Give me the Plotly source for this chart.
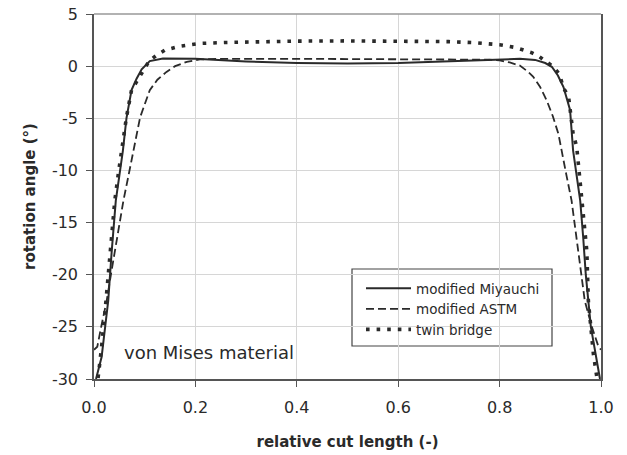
import plotly.graph_objects as go

# modified Miyauchi specimen
miyauchi_x = [0.004, 0.015, 0.022, 0.028, 0.035, 0.043, 0.050, 0.057, 0.064, 0.074,
              0.084, 0.094, 0.110, 0.136, 0.20, 0.30, 0.40, 0.50, 0.60, 0.70,
              0.80, 0.84, 0.87, 0.89, 0.903, 0.915, 0.926, 0.939, 0.945, 0.952,
              0.959, 0.965, 0.970, 0.980, 0.990, 0.998]
miyauchi_y = [-30.0, -27.9, -25.0, -22.5, -17.7, -12.9, -10.5, -8.1, -5.0, -2.3,
              -1.2, -0.3, 0.48, 0.74, 0.70, 0.45, 0.30, 0.25, 0.30, 0.45,
              0.65, 0.70, 0.60, 0.30, -0.06, -0.9, -2.0, -4.2, -8.1, -10.5,
              -12.9, -16.5, -20.0, -25.0, -28.0, -30.0]

# modified ASTM specimen
astm_x = [0.0, 0.0065, 0.015, 0.025, 0.033, 0.041, 0.050, 0.058, 0.068, 0.078,
          0.091, 0.110, 0.125, 0.143, 0.160, 0.183, 0.209, 0.25, 0.30, 0.40,
          0.50, 0.60, 0.70, 0.78, 0.80, 0.82, 0.84, 0.855, 0.866, 0.880,
          0.893, 0.905, 0.916, 0.922, 0.932, 0.942, 0.955, 0.968, 0.982, 0.995, 1.0]
astm_y = [-27.2, -26.9, -24.8, -22.5, -20.1, -17.7, -15.3, -12.9, -10.5, -8.1,
          -4.9, -2.3, -1.3, -0.55, 0.0, 0.41, 0.64, 0.70, 0.72, 0.70,
          0.68, 0.68, 0.68, 0.62, 0.55, 0.35, 0.05, -0.5, -1.0, -2.0,
          -3.3, -4.8, -6.5, -8.1, -10.5, -12.9, -17.7, -22.5, -25.0, -26.9, -27.2]

# twin bridge specimen
twin_x = [0.008, 0.013, 0.015, 0.022, 0.028, 0.035, 0.041, 0.048, 0.055, 0.064,
          0.074, 0.091, 0.109, 0.124, 0.140, 0.170, 0.209, 0.262, 0.327, 0.40,
          0.50, 0.60, 0.70, 0.75, 0.80, 0.83, 0.85, 0.863, 0.877, 0.892,
          0.906, 0.918, 0.926, 0.936, 0.939, 0.945, 0.952, 0.962, 0.972, 0.975,
          0.982, 0.985, 0.992]
twin_y = [-29.9, -27.9, -26.9, -23.4, -20.1, -16.1, -12.9, -10.3, -7.7, -4.9,
          -2.3, -0.86, 0.51, 1.06, 1.54, 1.92, 2.18, 2.27, 2.37, 2.40,
          2.42, 2.40, 2.35, 2.25, 2.05, 1.80, 1.54, 1.30, 0.96, 0.48,
          -0.06, -0.77, -2.1, -2.9, -4.2, -6.5, -7.7, -12.9, -17.7, -22.5,
          -25.7, -27.6, -29.9]

x_ticks = [0.0, 0.2, 0.4, 0.6, 0.8, 1.0]
x_labels = ["0.0", "0.2", "0.4", "0.6", "0.8", "1.0"]
y_ticks = [5, 0, -5, -10, -15, -20, -25, -30]
y_labels = ["5", "0", "-5", "-10", "-15", "-20", "-25", "-30"]

FONT = "DejaVu Sans, Arial, sans-serif"
INK = "#2a2a2a"

fig = go.Figure()
fig.add_trace(go.Scatter(x=miyauchi_x, y=miyauchi_y, mode="lines",
                         name="modified Miyauchi",
                         line=dict(color=INK, width=2)))
fig.add_trace(go.Scatter(x=astm_x, y=astm_y, mode="lines",
                         name="modified ASTM",
                         line=dict(color=INK, width=1.8, dash="8px,4px")))
fig.add_trace(go.Scatter(x=twin_x, y=twin_y, mode="lines",
                         name="twin bridge",
                         line=dict(color=INK, width=3.6, dash="3.6px,7px")))

# legend frame
fig.add_shape(type="rect", xref="paper", yref="paper",
              x0=(352 - 94) / 507, x1=(552 - 94) / 507,
              y0=(379 - 346) / 365, y1=(379 - 269) / 365,
              line=dict(color="#444", width=1.2), fillcolor="white", layer="below")
# top frame line
fig.add_shape(type="line", xref="paper", yref="paper", x0=0, x1=1, y0=1, y1=1,
              line=dict(color="#999", width=1.5))

fig.add_annotation(text="von Mises material", x=0.055, y=-27.5, xref="x", yref="y",
                   xanchor="left", yanchor="middle", showarrow=False,
                   font=dict(family=FONT, size=18, color=INK))

fig.update_layout(
    width=627, height=455,
    margin=dict(l=94, r=26, t=14, b=76),
    paper_bgcolor="white", plot_bgcolor="white",
    font=dict(family=FONT, color=INK),
    showlegend=True,
    legend=dict(x=(361 - 94) / 507, y=(379 - 273) / 365, xanchor="left", yanchor="top",
                bgcolor="rgba(0,0,0,0)", borderwidth=0, itemwidth=45,
                font=dict(family=FONT, size=13.5, color=INK)),
    xaxis=dict(range=[0, 1], tickvals=x_ticks, ticktext=x_labels,
               showgrid=True, gridcolor="#d6d6d6", gridwidth=1,
               showline=True, linecolor="#555", linewidth=1.5,
               ticks="outside", ticklen=6, tickcolor="#555",
               ticklabelstandoff=7, automargin=False,
               tickfont=dict(family=FONT, size=16, color=INK),
               zeroline=False,
               title=dict(text="<b>relative cut length (-)</b>", standoff=21,
                          font=dict(family=FONT, size=15, color=INK))),
    yaxis=dict(range=[-30, 5], tickvals=y_ticks, ticktext=y_labels,
               showgrid=True, gridcolor="#d6d6d6", gridwidth=1,
               showline=True, linecolor="#555", linewidth=1.5, mirror=True,
               ticks="outside", ticklen=6, tickcolor="#555",
               ticklabelstandoff=5, automargin=False,
               tickfont=dict(family=FONT, size=16, color=INK),
               zeroline=False,
               title=dict(text="<b>rotation angle (°)</b>", standoff=13,
                          font=dict(family=FONT, size=15, color=INK))),
)

fig.write_html("out.html")
